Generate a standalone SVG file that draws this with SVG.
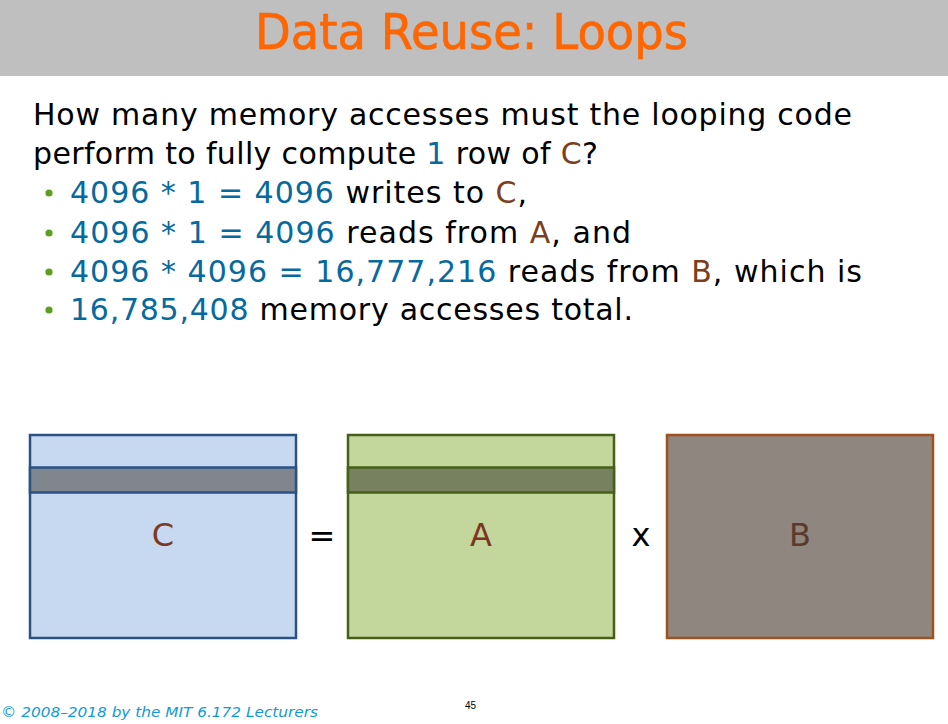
<svg xmlns="http://www.w3.org/2000/svg" width="948" height="724" viewBox="0 0 948 724">
<style>
.body{font-family:"DejaVu Sans","Noto Sans",sans-serif;font-size:30px;fill:#000}
.n{fill:#066a9e}
.l{fill:#7b3f20}
.bul{fill:#5e9e1c}
.lbl{font-family:"DejaVu Sans","Noto Sans",sans-serif;font-size:32px;text-anchor:middle}
.band{stroke-width:2.5}
</style>
<rect x="0" y="0" width="948" height="76" fill="#bfbfbf"/>
<text x="255" y="49" font-family="DejaVu Sans, sans-serif" font-size="50" fill="#ff6600" stroke="#ff6600" stroke-width="0.7" textLength="433" lengthAdjust="spacingAndGlyphs">Data Reuse: Loops</text>

<text class="body" x="33" y="125" textLength="819" lengthAdjust="spacing">How many memory accesses must the looping code</text>
<text class="body" x="33" y="164" textLength="565" lengthAdjust="spacing">perform to fully compute <tspan class="n">1</tspan> row of <tspan class="l">C</tspan>?</text>
<circle class="bul" cx="49" cy="193" r="3.6"/>
<circle class="bul" cx="49" cy="233" r="3.6"/>
<circle class="bul" cx="49" cy="272" r="3.6"/>
<circle class="bul" cx="49" cy="310" r="3.6"/>
<text class="body" x="70" y="203" textLength="457" lengthAdjust="spacing"><tspan class="n">4096 * 1 = 4096</tspan> writes to <tspan class="l">C</tspan>,</text>
<text class="body" x="70" y="243" textLength="561" lengthAdjust="spacing"><tspan class="n">4096 * 1 = 4096</tspan> reads from <tspan class="l">A</tspan>, and</text>
<text class="body" x="70" y="282" textLength="792" lengthAdjust="spacing"><tspan class="n">4096 * 4096 = 16,777,216</tspan> reads from <tspan class="l">B</tspan>, which is</text>
<text class="body" x="70" y="320" textLength="563" lengthAdjust="spacing"><tspan class="n">16,785,408</tspan> memory accesses total.</text>

<g id="matrixC">
<rect x="30" y="435" width="266" height="203" fill="#c6d9f0" stroke="#2a5286" stroke-width="2.5"/>
<rect class="band" x="30" y="467.5" width="266" height="25" fill="#7f868e" stroke="#2a5286"/>
<text class="lbl" x="163" y="546" fill="#7b3a1f">C</text>
</g>
<text class="lbl" x="322" y="547" fill="#000">=</text>
<g id="matrixA">
<rect x="348" y="435" width="266" height="203" fill="#c3d69b" stroke="#46601a" stroke-width="2.5"/>
<rect class="band" x="348" y="467.5" width="266" height="25" fill="#77805f" stroke="#46601a"/>
<text class="lbl" x="481" y="546" fill="#7f3320">A</text>
</g>
<text class="lbl" x="641" y="546" fill="#000">x</text>
<g id="matrixB">
<rect x="667" y="435" width="266" height="203" fill="#8f8680" stroke="#a0521e" stroke-width="2.5"/>
<text class="lbl" x="800" y="546" fill="#5b3a2e">B</text>
</g>

<text x="1" y="717" font-family="DejaVu Sans, sans-serif" font-style="italic" font-size="14" fill="#0f9ad8" textLength="317" lengthAdjust="spacingAndGlyphs">© 2008–2018 by the MIT 6.172 Lecturers</text>
<text x="465" y="709" font-family="Liberation Sans, Arial, sans-serif" font-size="10" fill="#000">45</text>
</svg>
